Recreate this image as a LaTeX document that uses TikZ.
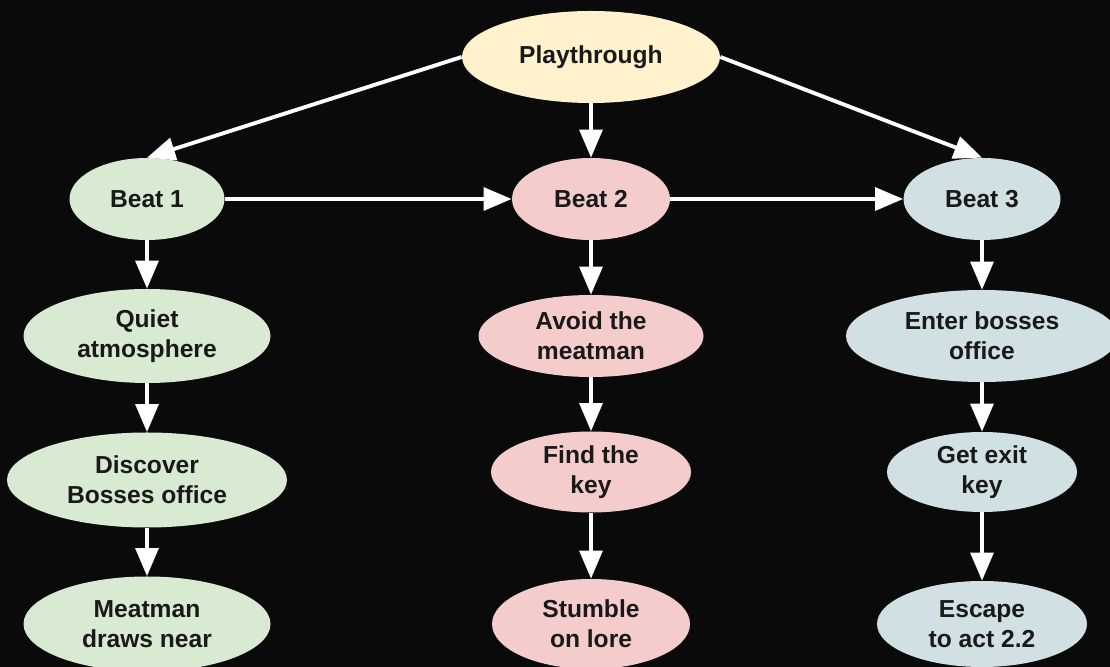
\documentclass[tikz,border=0pt]{standalone}
\usepackage{fontspec}
\setmainfont{Liberation Sans}
\usetikzlibrary{shapes.geometric,arrows.meta}

\definecolor{bgdark}{RGB}{10,10,10}
\definecolor{playfill}{HTML}{FFF2CC}
\definecolor{onefill}{HTML}{D9EAD3}
\definecolor{twofill}{HTML}{F4CCCC}
\definecolor{threefill}{HTML}{D0E0E3}
\definecolor{textdark}{RGB}{25,25,25}

\begin{document}
\begin{tikzpicture}[
    beat/.style={ellipse, inner sep=0pt, align=center, text=textdark,
        font=\bfseries\fontsize{14}{17}\selectfont},
    flow/.style={draw=white, line width=2.2pt, -{Triangle[length=16pt,width=13pt]}}
]
                \fill[bgdark] (0,0) rectangle (22.2,13.34);
                \useasboundingbox (0,0) rectangle (22.2,13.34);

                \node[beat, fill=playfill, minimum width=5.16cm, minimum height=1.84cm] (play) at (11.82,12.2) {Playthrough};

                \node[beat, fill=onefill, minimum width=3.1cm, minimum height=1.64cm] (beat1) at (2.94,9.36) {Beat 1};
                \node[beat, fill=twofill, minimum width=3.16cm, minimum height=1.64cm] (beat2) at (11.82,9.36) {Beat 2};
                \node[beat, fill=threefill, minimum width=3.14cm, minimum height=1.64cm] (beat3) at (19.64,9.36) {Beat 3};

                \node[beat, fill=onefill, minimum width=4.94cm, minimum height=1.88cm] (quiet) at (2.94,6.62) {Quiet\\atmosphere};
                \node[beat, fill=onefill, minimum width=5.6cm, minimum height=1.9cm] (discover) at (2.94,3.74) {Discover\\Bosses office};
                \node[beat, fill=onefill, minimum width=4.94cm, minimum height=1.9cm] (meatman) at (2.94,0.86) {Meatman\\draws near};

                \node[beat, fill=twofill, minimum width=4.5cm, minimum height=1.64cm] (avoid) at (11.82,6.62) {Avoid the\\meatman};
                \node[beat, fill=twofill, minimum width=4.0cm, minimum height=1.62cm] (findkey) at (11.82,3.9) {Find the\\key};
                \node[beat, fill=twofill, minimum width=3.96cm, minimum height=1.8cm] (stumble) at (11.82,0.86) {Stumble\\on lore};

                \node[beat, fill=threefill, minimum width=5.44cm, minimum height=1.84cm] (enter) at (19.64,6.62) {Enter bosses\\office};
                \node[beat, fill=threefill, minimum width=3.8cm, minimum height=1.6cm] (exitkey) at (19.64,3.9) {Get exit\\key};
                \node[beat, fill=threefill, minimum width=4.2cm, minimum height=1.72cm] (escape) at (19.64,0.86) {Escape\\to act 2.2};

                \draw[flow] (play.west) to (beat1.north);
                \draw[flow] (play) to (beat2);
                \draw[flow] (play.east) to (beat3.north);
                \draw[flow] (beat1) to (beat2);
                \draw[flow] (beat2) to (beat3);

                \draw[flow] (beat1) to (quiet);
                \draw[flow] (quiet) to (discover);
                \draw[flow] (discover) to (meatman);
                \draw[flow] (beat2) to (avoid);
                \draw[flow] (avoid) to (findkey);
                \draw[flow] (findkey) to (stumble);
                \draw[flow] (beat3) to (enter);
                \draw[flow] (enter) to (exitkey);
                \draw[flow] (exitkey) to (escape);
            \end{tikzpicture}
\end{document}
